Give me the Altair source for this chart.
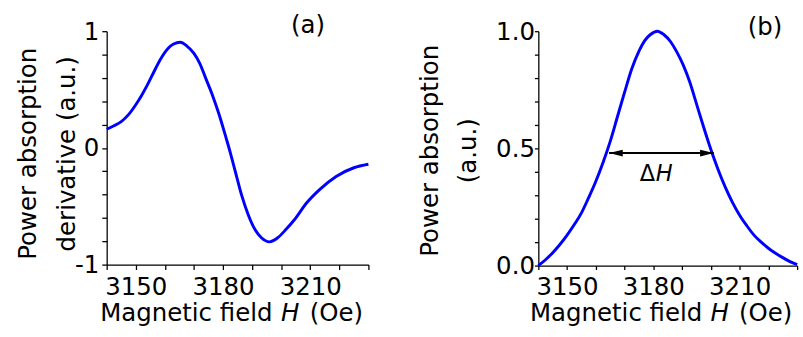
import altair as alt
import pandas as pd

# ---------------- data ----------------
# Panel (a): derivative of power absorption
a_field = [3140, 3142.5, 3145, 3147.5, 3150, 3152, 3154, 3156, 3158.5, 3161, 3163,
           3165.3, 3167.5, 3170, 3172, 3174, 3176.4, 3178.6, 3181, 3182.5, 3184.2,
           3186.4, 3188.7, 3191, 3193.2, 3196, 3198.8, 3201.6, 3204.4, 3208.8,
           3213.3, 3218.9, 3225, 3230]
a_value = [0.16, 0.19, 0.225, 0.285, 0.37, 0.45, 0.54, 0.64, 0.76, 0.85, 0.89,
           0.905, 0.875, 0.81, 0.725, 0.60, 0.45, 0.29, 0.09, -0.04, -0.20,
           -0.405, -0.575, -0.70, -0.77, -0.805, -0.77, -0.70, -0.62, -0.47,
           -0.355, -0.245, -0.17, -0.14]

# Panel (b): power absorption
b_field = [3140, 3142.5, 3145, 3147.5, 3150, 3152.5, 3155, 3157.5, 3160, 3162.5,
           3165, 3167.5, 3170, 3172.5, 3175, 3177, 3179, 3181.4, 3183.6, 3186,
           3188, 3190.4, 3192.6, 3195, 3197.5, 3200, 3202.5, 3205, 3207.5, 3210,
           3212.5, 3215, 3217.5, 3220, 3222.5, 3225, 3227.5, 3230]
b_value = [0.0, 0.025, 0.055, 0.09, 0.13, 0.175, 0.225, 0.29, 0.36, 0.44,
           0.53, 0.635, 0.74, 0.84, 0.915, 0.96, 0.986, 1.0, 0.986, 0.955,
           0.915, 0.855, 0.785, 0.69, 0.59, 0.495, 0.41, 0.335, 0.27, 0.215,
           0.17, 0.13, 0.10, 0.074, 0.053, 0.034, 0.017, 0.004]

x_ticks = [3140, 3150, 3160, 3170, 3180, 3190, 3200, 3210, 3220, 3230]
x_tick_labels = [3150, 3180, 3210]
a_y_ticks = [-1.0, -0.8, -0.6, -0.4, -0.2, 0.0, 0.2, 0.4, 0.6, 0.8, 1.0]
a_y_tick_labels = [-1, 0, 1]
b_y_ticks = [0.0, 0.1, 0.2, 0.3, 0.4, 0.5, 0.6, 0.7, 0.8, 0.9, 1.0]
b_y_tick_labels = [0, 0.5, 1]

a_title_lines = ["Power absorption", "derivative (a.u.)"]
b_title_lines = ["Power absorption", "(a.u.)"]
x_title_parts = ["Magnetic field", "H", "(Oe)"]
x_title_pos = [3197.0, 3203.1, 3209.8]

panel_labels = ["(a)", "(b)"]
panel_label_x = [3209.2, 3218.8]
panel_label_y = [1.054, 1.018]

arrow_field = [3164.6, 3201.0]
arrow_value = [0.48, 0.48]
delta_parts = ["\u0394", "H"]
delta_x = [3180.6, 3180.8]
delta_y = [0.36, 0.36]

FONT = "DejaVu Sans"
BLUE = "#0000ff"
FS = 25

X_DOMAIN = [3140, 3230]


def list_js(vals):
    return "[" + ",".join(repr(v) for v in vals) + "]"


def x_enc(tick_size, label_pad):
    return alt.X(
        "field:Q",
        scale=alt.Scale(domain=X_DOMAIN, nice=False, zero=False),
        axis=alt.Axis(
            values=x_ticks,
            labelExpr=f"indexof({list_js(x_tick_labels)}, datum.value) >= 0 ? toString(datum.value) : ''",
            title=None,
            grid=False,
            tickSize=tick_size,
            labelPadding=label_pad,
            labelOverlap=False,
            labelFlush=False,
            labelFont=FONT,
            labelFontSize=FS,
            labelColor="black",
            domainColor="black",
            tickColor="black",
            domainWidth=1.3,
            tickWidth=1.3,
        ),
    )


def y_enc(domain, ticks, label_expr, title_lines, title_x, title_y, tick_size, label_pad):
    return alt.Y(
        "value:Q",
        scale=alt.Scale(domain=domain, nice=False, zero=False),
        axis=alt.Axis(
            values=ticks,
            labelExpr=label_expr,
            title=title_lines,
            titleX=title_x,
            titleY=title_y,
            titleFont=FONT,
            titleFontSize=FS,
            titleFontWeight="normal",
            titleColor="black",
            titleLineHeight=39.5,
            grid=False,
            tickSize=tick_size,
            labelPadding=label_pad,
            labelOverlap=False,
            labelFlush=False,
            labelFont=FONT,
            labelFontSize=FS,
            labelColor="black",
            domainColor="black",
            tickColor="black",
            domainWidth=1.3,
            tickWidth=1.3,
        ),
    )


def x_title_layers(xe):
    aligns = ["right", "center", "left"]
    styles = ["normal", "italic", "normal"]
    layers = []
    for part, pos, al, st in zip(x_title_parts, x_title_pos, aligns, styles):
        df = pd.DataFrame({"field": [pos], "t": [part]})
        layers.append(
            alt.Chart(df)
            .mark_text(font=FONT, fontSize=FS, align=al, baseline="alphabetic",
                       fontStyle=st, color="black")
            .encode(x=xe, y=alt.value(297), text="t:N")
        )
    return layers


# ---------------- panel (a) ----------------
xa = x_enc(5, 5.5)
ya = y_enc([-1, 1], a_y_ticks,
           f"indexof({list_js(a_y_tick_labels)}, datum.value) >= 0 ? toString(datum.value) : ''",
           a_title_lines, -67.5, 125, 5, 3)

df_a = pd.DataFrame({"field": a_field, "value": a_value})
line_a = alt.Chart(df_a).mark_line(color=BLUE, strokeWidth=3, interpolate="monotone").encode(x=xa, y=ya)
lab_a = alt.Chart(pd.DataFrame({"field": [panel_label_x[0]], "value": [panel_label_y[0]], "t": [panel_labels[0]]})).mark_text(
    font=FONT, fontSize=FS, align="center", baseline="middle", color="black").encode(x=xa, y=ya, text="t:N")

panel_a = alt.layer(line_a, lab_a, *x_title_layers(xa)).properties(width=268, height=239)

# ---------------- panel (b) ----------------
xb = x_enc(4, 5.5)
yb = y_enc([0, 1], b_y_ticks,
           f"indexof({list_js(b_y_tick_labels)}, datum.value) >= 0 ? format(datum.value, '.1f') : ''",
           b_title_lines, -98.5, 122, 4, 0)

df_b = pd.DataFrame({"field": b_field, "value": b_value})
line_b = alt.Chart(df_b).mark_line(color=BLUE, strokeWidth=3, interpolate="monotone").encode(x=xb, y=yb)

df_arrow = pd.DataFrame({"field": arrow_field, "value": arrow_value})
arrow_line = alt.Chart(df_arrow).mark_line(color="black", strokeWidth=2).encode(x=xb, y=yb)
head_l = alt.Chart(df_arrow.iloc[[0]]).mark_point(
    shape="M0,0L2,-0.5L2,0.5Z", filled=True, size=196, color="black", opacity=1, strokeWidth=0
).encode(x=xb, y=yb)
head_r = alt.Chart(df_arrow.iloc[[1]]).mark_point(
    shape="M0,0L-2,-0.5L-2,0.5Z", filled=True, size=196, color="black", opacity=1, strokeWidth=0
).encode(x=xb, y=yb)

delta_t = alt.Chart(pd.DataFrame({"field": [delta_x[0]], "value": [delta_y[0]], "t": [delta_parts[0]]})).mark_text(
    font=FONT, fontSize=23, align="right", baseline="alphabetic", color="black").encode(x=xb, y=yb, text="t:N")
h_t = alt.Chart(pd.DataFrame({"field": [delta_x[1]], "value": [delta_y[1]], "t": [delta_parts[1]]})).mark_text(
    font=FONT, fontSize=23, align="left", baseline="alphabetic", fontStyle="italic", color="black").encode(x=xb, y=yb, text="t:N")

lab_b = alt.Chart(pd.DataFrame({"field": [panel_label_x[1]], "value": [panel_label_y[1]], "t": [panel_labels[1]]})).mark_text(
    font=FONT, fontSize=FS, align="center", baseline="middle", color="black").encode(x=xb, y=yb, text="t:N")

panel_b = alt.layer(line_b, arrow_line, head_l, head_r, delta_t, h_t, lab_b, *x_title_layers(xb)).properties(
    width=265, height=240)

chart = (
    alt.hconcat(panel_a, panel_b, spacing=44)
    .properties(padding={"left": 16.25, "top": 9, "right": 0, "bottom": 0}, background="white")
    .configure_view(stroke=None)
)

chart.save("out.html", embed_options={"renderer": "svg", "actions": False})
